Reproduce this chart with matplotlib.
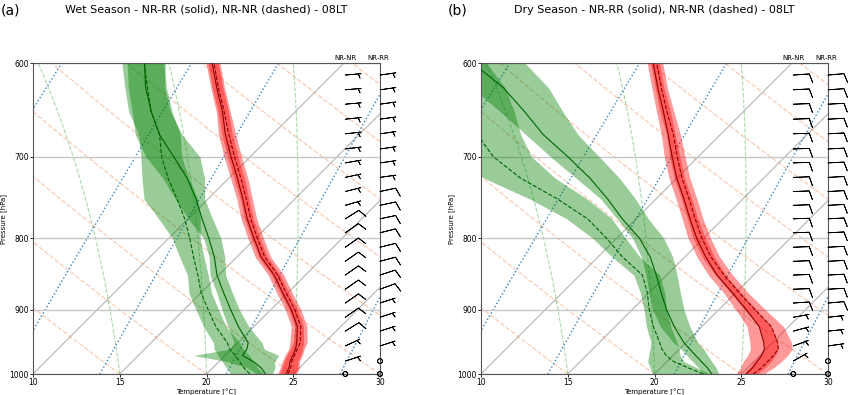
import numpy as np
import matplotlib.pyplot as plt
from matplotlib.ticker import FixedLocator, NullLocator, ScalarFormatter

# pressure levels of the mean profiles [hPa]
p_lev = np.array([1000, 990, 980, 970, 960, 950, 925, 900, 875, 850, 825, 800,
                  775, 750, 725, 700, 675, 650, 625, 600])

# ---- wet season (a): means and spread below / above the mean [degC] ----
wet_t_rr = [24.6, 24.4, 24.1, 23.9, 23.7, 23.4, 22.5, 21.2, 19.7, 18.2, 16.4, 14.9,
            13.4, 12.0, 10.5, 8.9, 7.3, 5.8, 4.1, 2.4]
wet_t_nn = [24.7, 24.5, 24.2, 24.0, 23.8, 23.6, 22.7, 21.4, 19.9, 18.4, 16.6, 15.1,
            13.6, 12.2, 10.7, 9.1, 7.5, 5.9, 4.2, 2.5]
wet_t_sd = [0.5, 0.5, 0.45, 0.45, 0.4, 0.4, 0.35, 0.35, 0.35, 0.35, 0.35, 0.35,
            0.35, 0.35, 0.4, 0.4, 0.4, 0.35, 0.35, 0.35]
wet_td_rr = [23.4, 22.8, 22.0, 21.0, 20.9, 20.6, 19.1, 17.7, 16.3, 14.9, 13.7, 12.3,
             10.8, 9.3, 7.6, 5.6, 3.5, 1.7, 0.0, -1.5]
wet_td_rr_lo = [0.5, 0.8, 1.5, 2.8, 1.0, 0.8, 0.6, 0.5, 0.4, 0.4, 0.3, 0.3,
                0.8, 1.2, 1.4, 1.6, 1.4, 1.1, 1.0, 1.0]
wet_td_rr_hi = [0.4, 0.8, 1.2, 2.1, 1.0, 0.8, 0.6, 0.5, 0.5, 0.5, 0.6, 0.7,
                0.6, 0.5, 1.0, 1.5, 1.3, 1.1, 1.1, 1.2]
wet_td_nn = [22.5, 21.8, 21.2, 20.6, 19.9, 19.4, 17.8, 16.4, 15.0, 13.8, 12.5, 11.2,
             9.8, 8.2, 6.5, 4.9, 3.5, 1.7, 0.1, -1.5]
wet_td_nn_lo = [1.1, 1.0, 1.0, 1.0, 0.9, 0.8, 0.7, 0.7, 0.7, 0.6, 0.8, 1.0,
                1.5, 1.9, 1.5, 1.2, 1.2, 1.3, 1.3, 1.3]
wet_td_nn_hi = [0.8, 0.8, 0.8, 0.8, 0.8, 0.7, 0.6, 0.6, 0.6, 0.6, 0.6, 0.6,
                0.9, 1.2, 1.2, 1.15, 1.2, 1.2, 1.1, 1.1]

# ---- dry season (b) ----
dry_t_rr = [25.3, 25.3, 25.2, 25.1, 24.9, 24.5, 23.3, 21.6, 19.8, 17.9, 16.2, 14.6,
            13.1, 11.6, 10.0, 8.5, 7.0, 5.4, 3.7, 2.0]
dry_t_nn = [25.7, 25.8, 25.8, 25.8, 25.7, 25.3, 24.0, 22.1, 20.2, 18.3, 16.5, 14.9,
            13.4, 11.9, 10.3, 8.8, 7.3, 5.6, 3.9, 2.2]
dry_t_sd = [0.6, 0.7, 0.8, 0.8, 0.8, 0.8, 0.7, 0.6, 0.5, 0.5, 0.5, 0.5,
            0.45, 0.45, 0.45, 0.45, 0.4, 0.4, 0.35, 0.35]
dry_td_rr = [23.3, 22.7, 22.0, 21.3, 20.6, 19.9, 18.4, 17.0, 15.7, 14.4, 13.0, 11.3,
             9.2, 7.2, 5.0, 2.5, -0.2, -2.6, -5.2, -8.4]
dry_td_rr_lo = [0.5, 0.5, 0.5, 0.5, 0.5, 0.6, 0.8, 0.8, 0.7, 0.6, 0.5, 0.4,
                0.3, 0.4, 0.8, 1.0, 1.0, 1.4, 1.8, 2.0]
dry_td_rr_hi = [0.4, 0.5, 0.6, 0.7, 0.8, 0.8, 0.9, 1.0, 1.1, 1.2, 1.3, 1.4,
                1.5, 1.6, 1.7, 1.8, 2.0, 2.2, 2.6, 3.0]
dry_td_nn = [22.8, 21.6, 20.4, 19.6, 19.0, 18.5, 17.2, 16.0, 14.9, 13.6, 11.4, 9.4,
             7.2, 4.3, 1.0, -1.8, -4.0, -6.5, -9.0, -11.5]
dry_td_nn_lo = [2.9, 2.2, 1.5, 1.0, 0.7, 0.5, 0.4, 0.3, 0.4, 0.5, 0.6, 0.8,
                1.2, 1.6, 2.1, 2.3, 2.3, 2.3, 2.3, 2.5]
dry_td_nn_hi = [0.4, 0.5, 0.6, 0.8, 1.0, 1.0, 1.0, 1.0, 1.0, 1.0, 1.0, 1.1,
                1.4, 1.7, 2.0, 2.2, 2.5, 3.3, 3.9, 3.9]

# ---- wind barbs: speed and direction the wind comes from ----
barb_p = [612, 627, 642, 658, 674, 691, 707, 724, 741, 758, 775, 793, 812, 831,
          850, 870, 890, 911, 932, 955, 979, 1000]
wet_spd_nn = [5, 5, 5, 5, 5, 5, 5, 5, 5, 5, 10, 10, 10, 10, 10, 10, 10, 10, 10, 5, 5, 0]
wet_dir_nn = [85, 85, 85, 84, 84, 83, 80, 78, 76, 74, 58, 55, 55, 55, 55, 55, 55, 55, 58, 65, 72, 0]
wet_spd_rr = [5, 5, 5, 5, 5, 5, 5, 5, 10, 10, 10, 10, 10, 10, 10, 10, 5, 5, 5, 5, 0, 0]
wet_dir_rr = [82, 82, 82, 82, 82, 82, 82, 82, 78, 78, 78, 76, 76, 75, 72, 70, 72, 72, 72, 72, 0, 0]
dry_spd_nn = [10, 10, 10, 10, 10, 10, 10, 10, 10, 10, 10, 10, 10, 10, 10, 10, 10, 5, 5, 5, 5, 0]
dry_dir_nn = [86, 87, 88, 88, 88, 88, 88, 88, 88, 88, 88, 88, 88, 88, 88, 88, 86, 80, 75, 70, 60, 0]
dry_spd_rr = [10, 10, 10, 10, 10, 10, 10, 10, 10, 10, 10, 10, 10, 10, 10, 10, 10, 5, 5, 5, 0, 0]
dry_dir_rr = [85, 86, 87, 87, 87, 87, 87, 87, 87, 87, 87, 87, 87, 87, 87, 87, 85, 84, 84, 82, 0, 0]

panels = [
    ("(a)", "Wet Season - NR-RR (solid), NR-NR (dashed) - 08LT",
     [(wet_t_rr, wet_t_sd, wet_t_sd, 'red', 'darkred', '-'),
      (wet_t_nn, wet_t_sd, wet_t_sd, 'red', 'darkred', '--'),
      (wet_td_rr, wet_td_rr_lo, wet_td_rr_hi, 'green', 'darkgreen', '-'),
      (wet_td_nn, wet_td_nn_lo, wet_td_nn_hi, 'green', 'darkgreen', '--')],
     wet_spd_nn, wet_dir_nn, wet_spd_rr, wet_dir_rr),
    ("(b)", "Dry Season - NR-RR (solid), NR-NR (dashed) - 08LT",
     [(dry_t_rr, dry_t_sd, dry_t_sd, 'red', 'darkred', '-'),
      (dry_t_nn, dry_t_sd, dry_t_sd, 'red', 'darkred', '--'),
      (dry_td_rr, dry_td_rr_lo, dry_td_rr_hi, 'green', 'darkgreen', '-'),
      (dry_td_nn, dry_td_nn_lo, dry_td_nn_hi, 'green', 'darkgreen', '--')],
     dry_spd_nn, dry_dir_nn, dry_spd_rr, dry_dir_rr),
]

W, H = 850, 395
fig = plt.figure(figsize=(W / 100, H / 100), dpi=100)

# skew so that isotherms run at 45 degrees on screen
ax_w, ax_h = 347, 311
K = (ax_h / np.log(1000 / 600)) / (ax_w / 20.0)


def sk(t, p):
    return np.asarray(t, dtype=float) + K * np.log(1000.0 / np.asarray(p, dtype=float))


def moist_lapse(t0, pp):
    Rd, Cp, Lv, eps = 287.04, 1005.7, 2.501e6, 0.622

    def dtdp(T, p):
        es = 6.112 * np.exp(17.67 * (T - 273.15) / (T - 29.65))
        rs = eps * es / (p - es)
        return (Rd * T + Lv * rs) / (Cp + Lv ** 2 * rs * eps / (Rd * T ** 2)) / p

    T = t0 + 273.15
    out = [T]
    for i in range(1, len(pp)):
        dp = pp[i] - pp[i - 1]
        k1 = dtdp(T, pp[i - 1])
        k2 = dtdp(T + 0.5 * dp * k1, pp[i - 1] + 0.5 * dp)
        k3 = dtdp(T + 0.5 * dp * k2, pp[i - 1] + 0.5 * dp)
        k4 = dtdp(T + dp * k3, pp[i])
        T = T + dp * (k1 + 2 * k2 + 2 * k3 + k4) / 6
        out.append(T)
    return np.array(out) - 273.15


pp = np.linspace(1000, 600, 120)
lefts = [33, 481]

for i, (tag, title, profiles, spd_nn, dir_nn, spd_rr, dir_rr) in enumerate(panels):
    ax = fig.add_axes([lefts[i] / W, (H - 374) / H, ax_w / W, ax_h / H])
    ax.set_yscale('log')

    # skewed isotherm grid
    for t in [10, 15, 20, 25, 30]:
        ax.plot(sk([t, t], [1000, 600]), [1000, 600], color='#b4b4b4', lw=0.8, zorder=1)
    # dry adiabats
    for th in np.arange(-30, 125, 5):
        t = (th + 273.15) * (pp / 1000) ** 0.2857 - 273.15
        ax.plot(sk(t, pp), pp, color='#f08c5a', ls='--', lw=0.9, alpha=0.45, zorder=1)
    # moist adiabats
    for t0 in np.arange(0, 31, 5):
        ax.plot(sk(moist_lapse(t0, pp), pp), pp, color='tab:green', ls='--', lw=0.8,
                alpha=0.4, zorder=1)
    # mixing ratio lines
    for w in [0.004, 0.007, 0.01, 0.016, 0.024, 0.032]:
        e = w * pp / (0.622 + w)
        lg = np.log(e / 6.112)
        td = 243.5 * lg / (17.67 - lg)
        ax.plot(sk(td, pp), pp, color='tab:blue', ls=':', lw=1.0, alpha=0.9, zorder=1)

    # mean profiles with spread
    for m, lo, hi, col, lcol, ls in profiles:
        m = np.array(m)
        ax.fill_betweenx(p_lev, sk(m - np.array(lo), p_lev), sk(m + np.array(hi), p_lev),
                         color=col, alpha=0.4, lw=0, zorder=2)
        ax.plot(sk(m, p_lev), p_lev, color=lcol, ls=ls, lw=0.8, zorder=3)

    # wind barbs
    for xloc, spd, wd in [(0.9, spd_nn, dir_nn), (1.0, spd_rr, dir_rr)]:
        spd = np.array(spd, dtype=float)
        rad = np.deg2rad(wd)
        u = -spd * np.sin(rad)
        v = -spd * np.cos(rad)
        ax.barbs(np.full(len(barb_p), xloc), barb_p, u, v, length=4.8, lw=0.6,
                 transform=ax.get_yaxis_transform(), clip_on=False,
                 sizes=dict(emptybarb=0.15, height=0.55, width=0.35), zorder=4)
    ax.text(0.9, 1.005, 'NR-NR', transform=ax.transAxes, ha='center', va='bottom',
            fontsize=5)
    ax.text(0.995, 1.005, 'NR-RR', transform=ax.transAxes, ha='center', va='bottom',
            fontsize=5)

    ax.set_ylim(1000, 600)
    ax.set_xlim(10, 30)
    ax.yaxis.set_major_locator(FixedLocator([600, 700, 800, 900, 1000]))
    ax.yaxis.set_minor_locator(NullLocator())
    ax.yaxis.set_major_formatter(ScalarFormatter())
    ax.xaxis.set_major_locator(FixedLocator([10, 15, 20, 25, 30]))
    ax.grid(axis='y', color='#c8c8c8', lw=1.0)
    ax.tick_params(labelsize=5.5, length=2, width=0.6, pad=1)
    for sp in ax.spines.values():
        sp.set_linewidth(0.8)
        sp.set_color('#555555')
    ax.set_xlabel('Temperature [°C]', fontsize=5, labelpad=1)
    ax.set_ylabel('Pressure [hPa]', fontsize=5, labelpad=2)

    xc = (lefts[i] + ax_w / 2) / W
    fig.text(xc, 1 - 10 / H, title, ha='center', va='center', fontsize=8)
    fig.text(1 / W if i == 0 else 448 / W, 1 - 10 / H, tag,
             ha='left', va='center', fontsize=10)

fig.savefig('out.png', dpi=100)
